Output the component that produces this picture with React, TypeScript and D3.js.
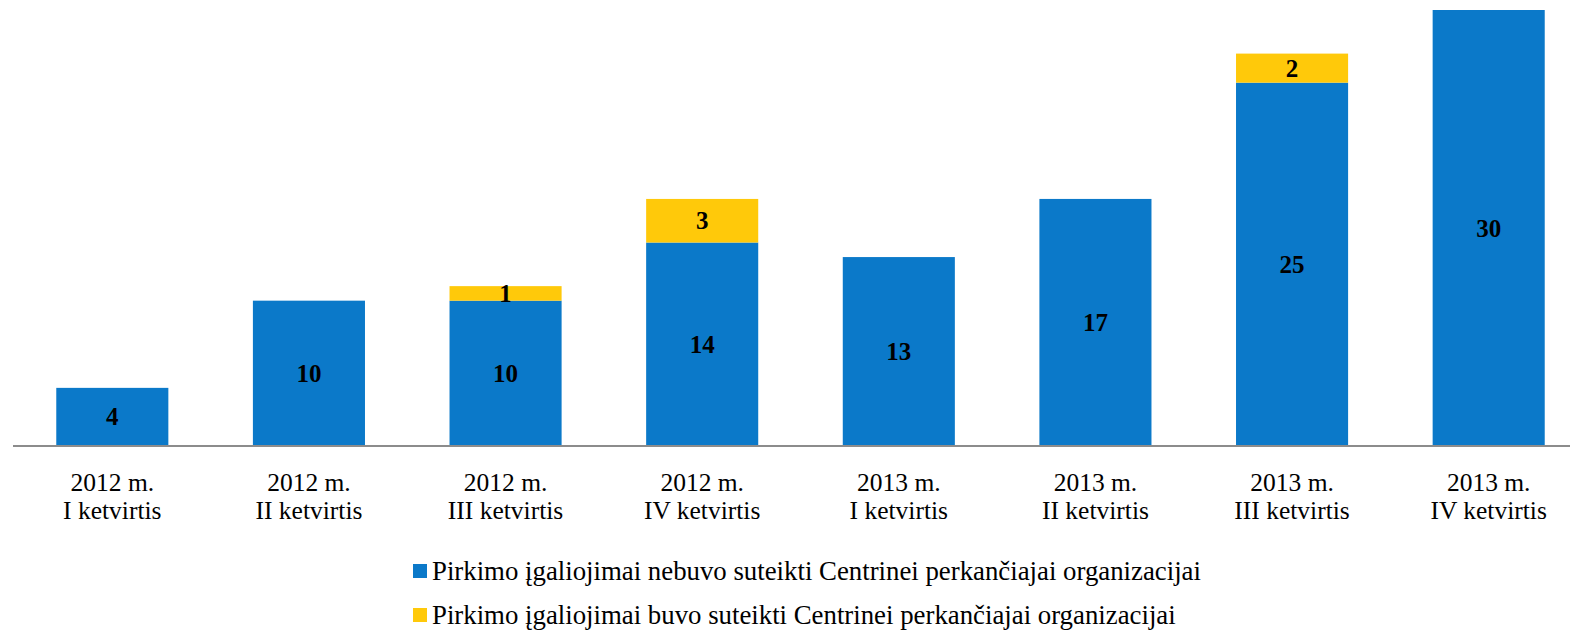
import React from "react";
import { scaleBand, scaleLinear, stack } from "d3";

const years = ["2012 m.", "2012 m.", "2012 m.", "2012 m.", "2013 m.", "2013 m.", "2013 m.", "2013 m."];
const quarters = ["I ketvirtis", "II ketvirtis", "III ketvirtis", "IV ketvirtis", "I ketvirtis", "II ketvirtis", "III ketvirtis", "IV ketvirtis"];
const notGranted = [4, 10, 10, 14, 13, 17, 25, 30];
const granted = [0, 0, 1, 3, 0, 0, 2, 0];
const seriesNames = [
  "Pirkimo įgaliojimai nebuvo suteikti Centrinei perkančiajai organizacijai",
  "Pirkimo įgaliojimai buvo suteikti Centrinei perkančiajai organizacijai",
];
const colors = ["#0B79C9", "#FFC90A"];

const W = 1570;
const H = 632;
const font = "'Liberation Serif', 'Times New Roman', serif";

export default function App() {
  const idx = notGranted.map((_, i) => i);
  const rows = idx.map((i) => ({ i, a: notGranted[i], b: granted[i] }));
  const layers = stack<any>().keys(["a", "b"])(rows);

  const x = scaleBand<number>().domain(idx).range([14, 1587]).paddingInner(0.43).paddingOuter(0.215);
  const y = scaleLinear().domain([0, 30]).range([446, 10]);

  return (
    <svg width={W} height={H} style={{ position: "absolute", left: 0, top: 0 }} fontFamily={font}>
      {layers.map((layer, li) =>
        layer.map((d, i) => {
          const v = d[1] - d[0];
          if (v <= 0) return null;
          const top = y(d[1]);
          const bot = y(d[0]);
          return (
            <g key={`${li}-${i}`}>
              <rect x={x(i)} y={top} width={x.bandwidth()} height={bot - top} fill={colors[li]} />
              <text
                x={(x(i) as number) + x.bandwidth() / 2}
                y={(top + bot) / 2 + 8.5}
                textAnchor="middle"
                fontWeight="bold"
                fontSize={25}
                fill="#000"
              >
                {v}
              </text>
            </g>
          );
        })
      )}
      <line x1={13} x2={W} y1={446} y2={446} stroke="#8c8c8c" strokeWidth={2} />
      {idx.map((i) => {
        const cx = (x(i) as number) + x.bandwidth() / 2;
        return (
          <text key={i} x={cx} textAnchor="middle" fontSize={25.5} fill="#000">
            <tspan x={cx} y={491}>{years[i]}</tspan>
            <tspan x={cx} y={518.5}>{quarters[i]}</tspan>
          </text>
        );
      })}
      {seriesNames.map((name, i) => (
        <g key={name} transform={`translate(413, ${564 + i * 44})`}>
          <rect x={0} y={0} width={14} height={14} fill={colors[i]} />
          <text x={19} y={16} fontSize={26.8} fill="#000">{name}</text>
        </g>
      ))}
    </svg>
  );
}
